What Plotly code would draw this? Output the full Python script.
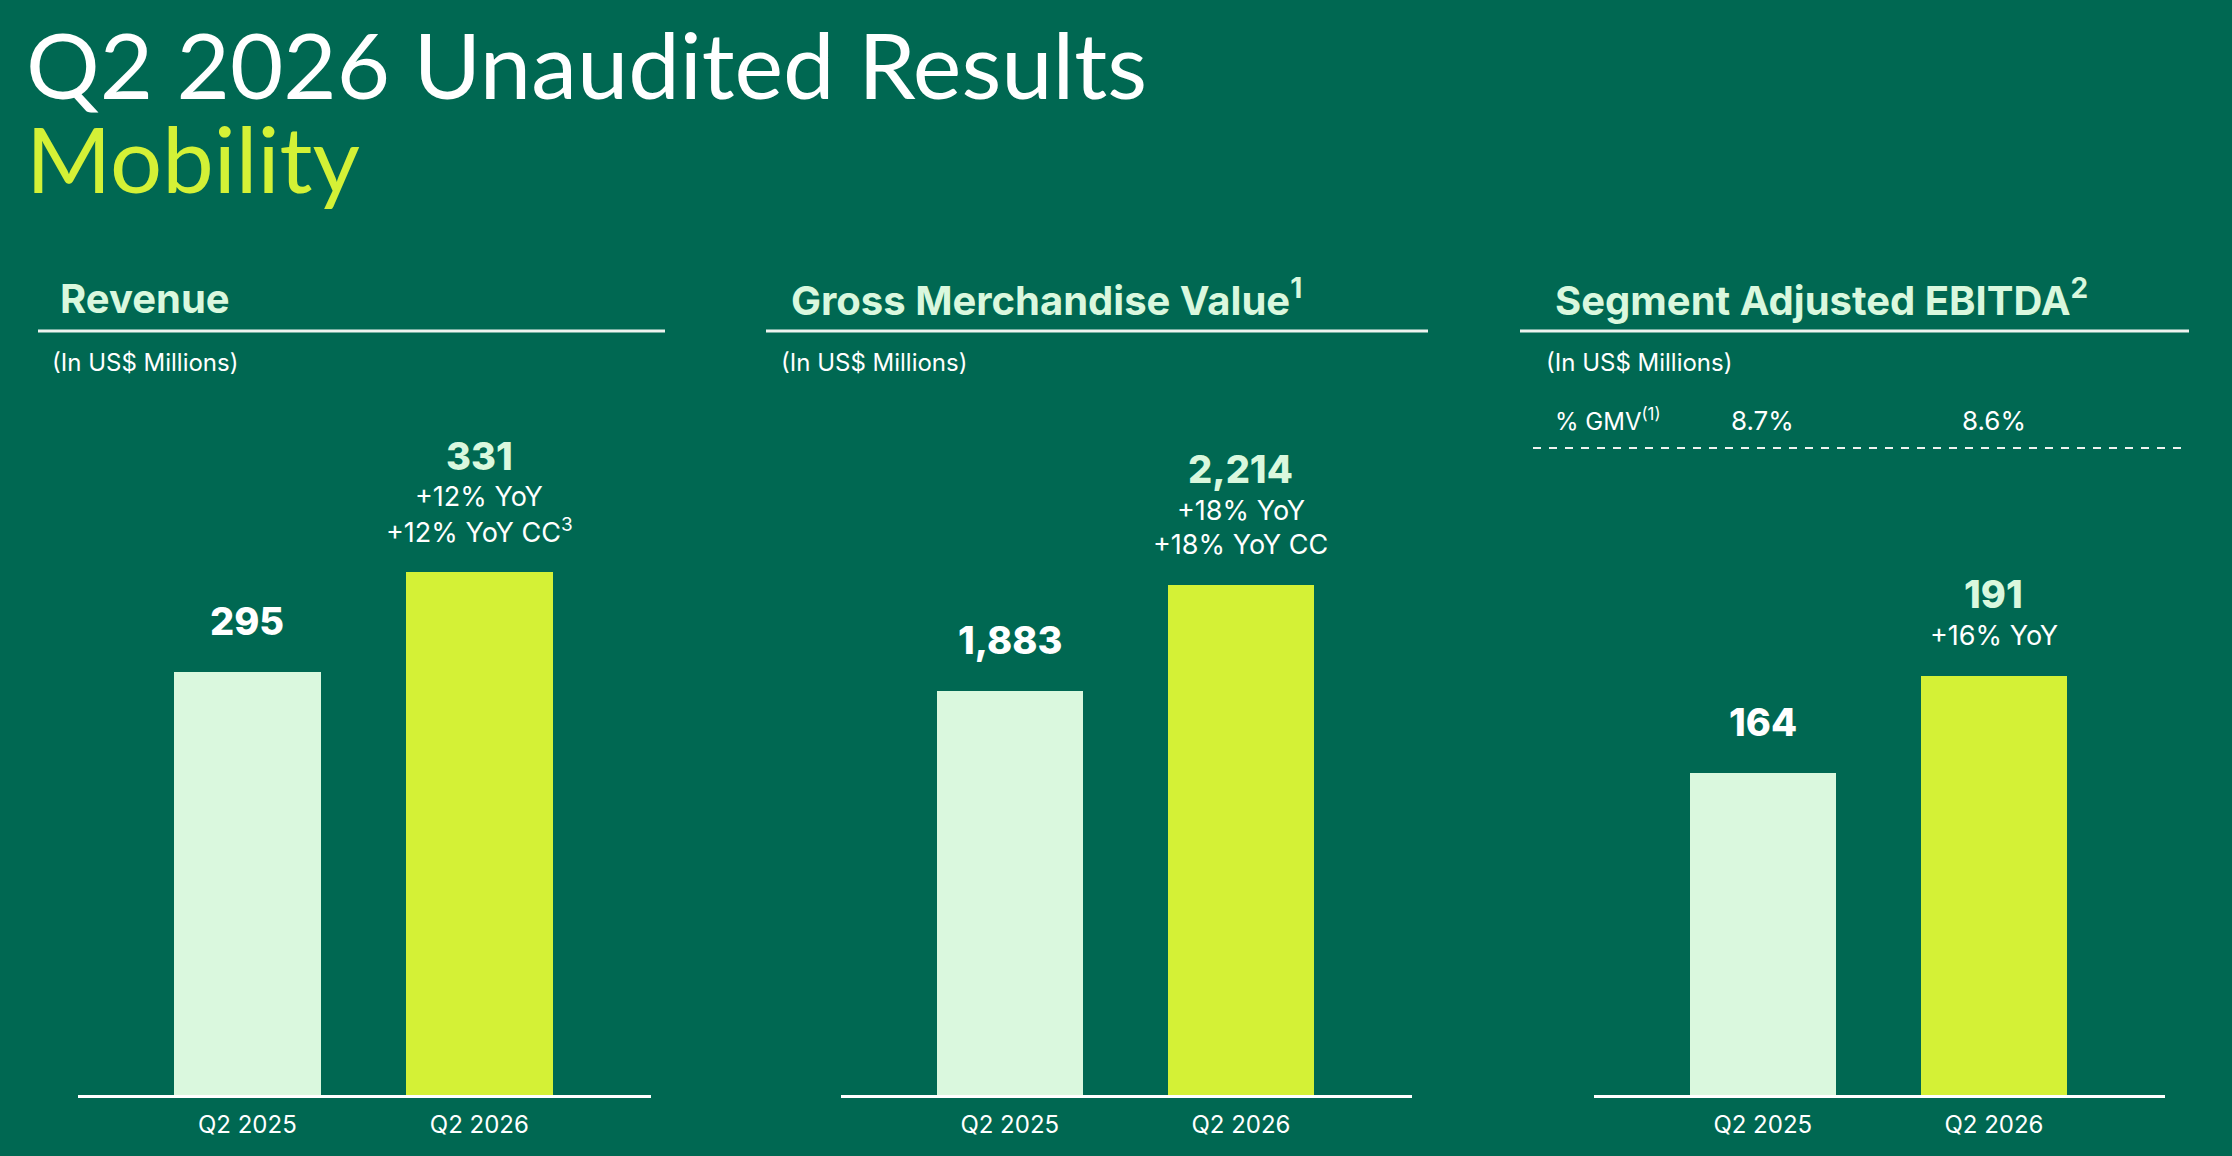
import plotly.graph_objects as go

W, H = 2232, 1156

# data
quarters = ["Q2 2025", "Q2 2026"]
revenue = [295, 331]
gmv = [1883, 2214]
ebitda = [164, 191]
ebitda_pct_gmv = ["8.7%", "8.6%"]

revenue_growth = ["+12% YoY", "+12% YoY CC<sup>3</sup>"]
gmv_growth = ["+18% YoY", "+18% YoY CC"]
ebitda_growth = ["+16% YoY"]

panel_titles = [
    "Revenue",
    "Gross Merchandise Value<sup>1</sup>",
    "Segment Adjusted EBITDA<sup>2</sup>",
]

BG = "#006852"
MINT = "#DAF8DE"
LIME = "#D4F136"
WHITE = "#FFFFFF"
RULE = "#EEF3EF"
FONT = "Inter"


def px_x(p):
    return p / W


def px_y(p):
    return 1 - p / H


# pixel layout of the three panels (slide is not drawn to a zero base)
panels = [
    dict(x0=78, x1=651, title_x=58, unit_x=50, rule=(38, 665), yrange=[142.7, 536.9]),
    dict(x0=841, x1=1412, title_x=789, unit_x=779, rule=(766, 1428), yrange=[617, 4046]),
    dict(x0=1594, x1=2165, title_x=1553, unit_x=1544, rule=(1520, 2189), yrange=[74.4, 379.2]),
]
series = [(revenue, revenue_growth), (gmv, gmv_growth), (ebitda, ebitda_growth)]

fig = go.Figure()
annotations = []
shapes = []
layout = {}

for k, (p, (vals, growth)) in enumerate(zip(panels, series)):
    n = "" if k == 0 else str(k + 1)
    xa, ya = "x" + n, "y" + n
    fig.add_trace(go.Bar(
        x=quarters, y=vals, xaxis=xa, yaxis=ya,
        marker=dict(color=[MINT, LIME], line=dict(width=0)),
        width=0.633, showlegend=False, hoverinfo="x+y",
    ))
    layout["xaxis" + n] = dict(
        domain=[px_x(p["x0"]), px_x(p["x1"])], anchor=ya,
        range=[-0.73, 1.74], showgrid=False, zeroline=False,
        showline=True, linecolor=WHITE, linewidth=3,
        ticks="", tickfont=dict(family=FONT, size=24, color=WHITE),
        ticklabelstandoff=6, fixedrange=True,
    )
    layout["yaxis" + n] = dict(
        domain=[px_y(1095), 1], anchor=xa, range=p["yrange"],
        visible=False, fixedrange=True,
    )

    # heading, rule, unit note
    annotations.append(dict(
        text=panel_titles[k], xref="paper", yref="paper",
        x=px_x(p["title_x"]), y=px_y(298), xanchor="left", yanchor="middle",
        showarrow=False, font=dict(family=FONT, size=40, color=MINT, weight=700),
    ))
    shapes.append(dict(
        type="line", xref="paper", yref="paper",
        x0=px_x(p["rule"][0]), x1=px_x(p["rule"][1]), y0=px_y(331), y1=px_y(331),
        line=dict(color=RULE, width=3),
    ))
    annotations.append(dict(
        text="(In US$ Millions)", xref="paper", yref="paper",
        x=px_x(p["unit_x"]), y=px_y(362), xanchor="left", yanchor="middle",
        showarrow=False, font=dict(family=FONT, size=24, color=WHITE),
    ))

    # value labels above bars
    for i, v in enumerate(vals):
        lines = growth if i == 1 else []
        shift = 41
        for g in reversed(lines):
            annotations.append(dict(
                text=g, xref=xa, yref=ya, x=quarters[i], y=v,
                xanchor="center", yanchor="middle", yshift=shift, showarrow=False,
                font=dict(family=FONT, size=27, color=WHITE),
            ))
            shift += 34
        num_shift = shift - 34 + 41 if lines else 51
        annotations.append(dict(
            text=f"{v:,}", xref=xa, yref=ya, x=quarters[i], y=v,
            xanchor="center", yanchor="middle", yshift=num_shift, showarrow=False,
            font=dict(family=FONT, size=38, color=WHITE if i == 0 else MINT, weight=800),
        ))

# % GMV row in the EBITDA panel
annotations.append(dict(
    text="% GMV<sup>(1)</sup>", xref="paper", yref="paper",
    x=px_x(1553), y=px_y(420), xanchor="left", yanchor="middle",
    showarrow=False, font=dict(family=FONT, size=24, color=WHITE),
))
for i, pct in enumerate(ebitda_pct_gmv):
    annotations.append(dict(
        text=pct, xref="x3", yref="paper", x=quarters[i], y=px_y(420),
        xanchor="center", yanchor="middle", showarrow=False,
        font=dict(family=FONT, size=26, color=WHITE),
    ))
shapes.append(dict(
    type="line", xref="paper", yref="paper",
    x0=px_x(1533), x1=px_x(2189), y0=px_y(448), y1=px_y(448),
    line=dict(color=RULE, width=2, dash="8px,8px"),
))

# slide title
annotations.append(dict(
    text="Q2 2026 Unaudited Results", xref="paper", yref="paper",
    x=px_x(24), y=px_y(64), xanchor="left", yanchor="middle",
    showarrow=False, font=dict(family="Lato", size=92, color=WHITE),
))
annotations.append(dict(
    text="Mobility", xref="paper", yref="paper",
    x=px_x(24), y=px_y(158), xanchor="left", yanchor="middle",
    showarrow=False, font=dict(family="Lato", size=92, color=LIME),
))

fig.update_layout(
    width=W, height=H,
    margin=dict(l=0, r=0, t=0, b=0),
    paper_bgcolor=BG, plot_bgcolor=BG,
    bargap=0, annotations=annotations, shapes=shapes,
    **layout,
)

# drop the browser's default page margin so the slide fills the window
fig.write_html(
    "out.html",
    config={"displayModeBar": False},
    post_script="document.body.style.margin='0';document.body.style.overflow='hidden';",
)
